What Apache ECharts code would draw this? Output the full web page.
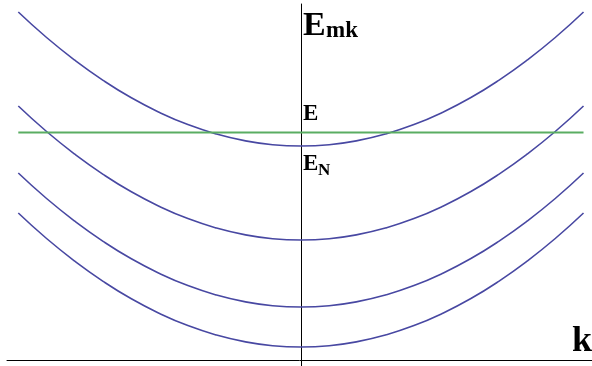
<!DOCTYPE html>
<html>
<head>
<meta charset="utf-8">
<script src="https://cdn.jsdelivr.net/npm/echarts@6/dist/echarts.min.js"></script>
<style>
  html, body { margin: 0; padding: 0; background: #fff; }
  #main { width: 592px; height: 366px; }
</style>
</head>
<body>
<div id="main"></div>
<script>
// k samples (k = -1 .. 1)
var kValues = [-1, -0.9, -0.8, -0.7, -0.6, -0.5, -0.4, -0.3, -0.2, -0.1, 0,
               0.1, 0.2, 0.3, 0.4, 0.5, 0.6, 0.7, 0.8, 0.9, 1];

// energy bands E_mk, one per m
var band1 = [34.8, 32.25, 29.98, 27.97, 26.22, 24.75, 23.54, 22.61, 21.94, 21.53, 21.4,
             21.53, 21.94, 22.61, 23.54, 24.75, 26.22, 27.97, 29.98, 32.25, 34.8];
var band2 = [25.4, 22.85, 20.58, 18.57, 16.82, 15.35, 14.14, 13.21, 12.54, 12.13, 12.0,
             12.13, 12.54, 13.21, 14.14, 15.35, 16.82, 18.57, 20.58, 22.85, 25.4];
var band3 = [18.7, 16.15, 13.88, 11.87, 10.12, 8.65, 7.44, 6.51, 5.84, 5.43, 5.3,
             5.43, 5.84, 6.51, 7.44, 8.65, 10.12, 11.87, 13.88, 16.15, 18.7];
var band4 = [14.7, 12.15, 9.88, 7.87, 6.12, 4.65, 3.44, 2.51, 1.84, 1.43, 1.3,
             1.43, 1.84, 2.51, 3.44, 4.65, 6.12, 7.87, 9.88, 12.15, 14.7];

// the energy level E (green line)
var levelK = [-1, 1];
var levelE = [22.75, 22.75];

function pairs(xs, ys) {
    var out = [];
    for (var i = 0; i < xs.length; i++) {
        out.push([xs[i], ys[i]]);
    }
    return out;
}

function band(values) {
    return {
        type: 'line',
        data: pairs(kValues, values),
        smooth: true,
        showSymbol: false,
        lineStyle: {color: '#4848a2', width: 1.6},
        z: 2
    };
}

var serif = '"Liberation Serif", "DejaVu Serif", serif';

function label(text, left, top, size) {
    return {
        type: 'text',
        left: left,
        top: top,
        style: {
            text: text,
            fill: '#000',
            font: 'bold ' + size + 'px ' + serif
        }
    };
}

var myChart = echarts.init(document.getElementById('main'));

option = {
    backgroundColor: '#fff',
    animation: false,
    grid: {left: 7, right: 0, top: 4, bottom: 0},
    xAxis: {
        type: 'value',
        min: -1.04,
        max: 1.03,
        axisLine: {onZero: true, lineStyle: {color: '#000', width: 1}},
        axisTick: {show: false},
        axisLabel: {show: false},
        splitLine: {show: false}
    },
    yAxis: {
        type: 'value',
        min: -0.6,
        max: 35.6,
        axisLine: {show: true, onZero: true, lineStyle: {color: '#000', width: 1}},
        axisTick: {show: false},
        axisLabel: {show: false},
        splitLine: {show: false}
    },
    series: [
        band(band1),
        band(band2),
        band(band3),
        band(band4),
        {
            type: 'line',
            data: pairs(levelK, levelE),
            showSymbol: false,
            lineStyle: {color: '#5aad62', width: 2.2},
            z: 3
        }
    ],
    graphic: [
        label('E', 303, 9, 34),
        label('mk', 326, 20, 23),
        label('E', 303, 103, 23),
        label('E', 303, 153, 23),
        label('N', 318, 162, 17),
        label('k', 572, 324, 36)
    ]
};
myChart.setOption(option);
</script>
</body>
</html>
